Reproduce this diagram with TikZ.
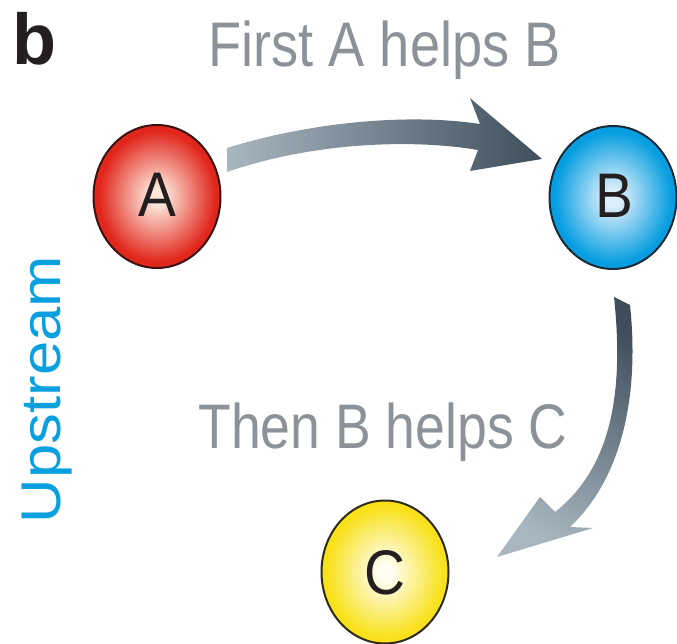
\documentclass[tikz,border=0pt]{standalone}
\usepackage{fontspec}
\setmainfont{Liberation Sans}
\usetikzlibrary{shapes.geometric}
\definecolor{redC}{HTML}{FDE6DA}
\definecolor{redE}{HTML}{E1261C}
\definecolor{redO}{HTML}{3A1210}
\definecolor{bluC}{HTML}{DDEFFB}
\definecolor{bluE}{HTML}{069EE0}
\definecolor{bluO}{HTML}{1A2A36}
\definecolor{yelC}{HTML}{FFFDF0}
\definecolor{yelE}{HTML}{F8E11A}
\definecolor{yelO}{HTML}{2E2A1A}
\definecolor{arrLight}{HTML}{A8B6BF}
\definecolor{arrDark}{HTML}{3E4F5B}
\definecolor{txtGray}{HTML}{8C9298}
\definecolor{upBlue}{HTML}{0AA0E0}
\definecolor{labBlack}{HTML}{231F20}
\pgfdeclareradialshading{redball}{\pgfpoint{0bp}{0bp}}{color(0bp)=(redC); color(3bp)=(redC); color(23bp)=(redE); color(25bp)=(redE); color(50bp)=(redE)}
\pgfdeclareradialshading{blueball}{\pgfpoint{0bp}{0bp}}{color(0bp)=(bluC); color(3bp)=(bluC); color(23bp)=(bluE); color(25bp)=(bluE); color(50bp)=(bluE)}
\pgfdeclareradialshading{yellowball}{\pgfpoint{0bp}{0bp}}{color(0bp)=(yelC); color(3bp)=(yelC); color(23bp)=(yelE); color(25bp)=(yelE); color(50bp)=(yelE)}
\tikzset{
  ball/.style={ellipse, inner sep=0pt, minimum width=127pt, minimum height=143pt, line width=2pt, shade},
  balllabel/.style={anchor=base, inner sep=0pt, text=labBlack, font=\fontsize{63}{63}\selectfont},
  title/.style={anchor=base, inner sep=0pt, text=txtGray, font=\fontsize{63}{63}\selectfont},
  flowarrow/.style={left color=arrLight, right color=arrDark},
}
\begin{document}
\begin{tikzpicture}[x=1pt, y=-1pt]
\useasboundingbox (0,0) rectangle (677,644);
% panel letter
\node[anchor=base west, inner sep=0pt, text=labBlack, font=\fontsize{72}{72}\selectfont\bfseries] (panel) at (12,65) {b};
% titles
\node[title] (t1) at (384.5,67) {\scalebox{0.86}[1]{First A helps B}};
\node[title] (t2) at (383,448) {\scalebox{0.85}[1]{Then B helps C}};
% side label
\node[anchor=base, inner sep=0pt, rotate=90, text=upBlue, font=\fontsize{56}{56}\selectfont] (up) at (60,389.5) {\scalebox{1.1}[1]{Upstream}};
% balls
\node[ball, draw=redO, shading=redball] (A) at (157,196.5) {};
\node[ball, draw=bluO, shading=blueball] (B) at (613,197.5) {};
\node[ball, draw=yelO, shading=yellowball] (C) at (385,572) {};
\node[balllabel] (la) at (157,217) {\scalebox{0.9}[1]{A}};
\node[balllabel] (lb) at (614,218) {\scalebox{0.9}[1]{B}};
\node[balllabel] (lc) at (385,594) {\scalebox{0.9}[1]{C}};
% arrow A -> B
\shade[flowarrow]
  (227,148) .. controls (300,125) and (400,112) .. (480,124)
  -- (470,98) -- (542,159) -- (470,171) -- (478,150)
  .. controls (420,140) and (320,140) .. (227,172) -- cycle;
% arrow B -> C
\shade[top color=arrDark, bottom color=arrLight, shading angle=-27]
  (614,297) -- (630,305) .. controls (640,400) and (620,480) .. (570,527)
  -- (593,528) -- (497,557) -- (540,497) -- (555,512)
  .. controls (608,470) and (625,400) .. (614,297) -- cycle;
\end{tikzpicture}
\end{document}
